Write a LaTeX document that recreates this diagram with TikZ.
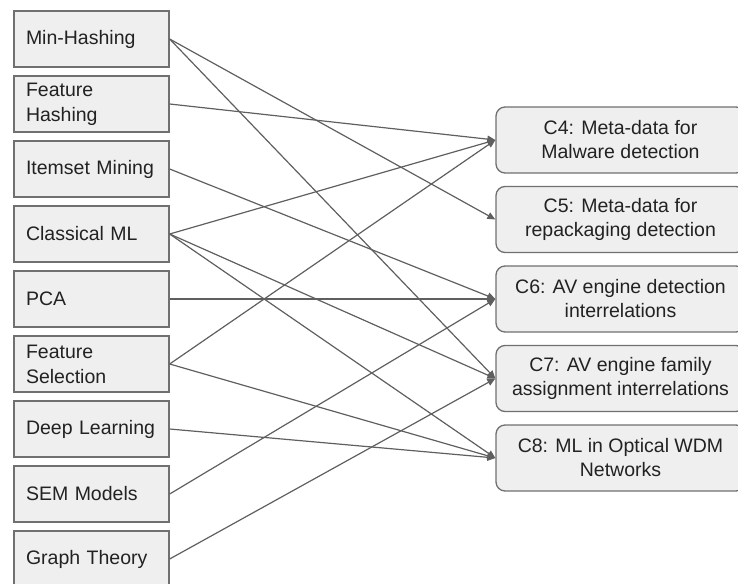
\documentclass[tikz,border=0pt]{standalone}
\usepackage{fontspec}
\setmainfont{Liberation Sans}
\usetikzlibrary{arrows.meta}
\definecolor{boxfill}{HTML}{EFEFEF}
\definecolor{boxline}{HTML}{707070}
\definecolor{edgeline}{HTML}{5F5F5F}
\definecolor{txt}{HTML}{222222}

\begin{document}
\begin{tikzpicture}[x=1pt,y=-1pt]

\tikzset{method/.style = {shape=rectangle,draw=boxline,fill=boxfill,line width=1.3pt,text=txt,
  minimum height=56pt,text width=131pt,inner xsep=12pt,inner ysep=0pt,align=left,
  font=\fontsize{19.5}{25}\selectfont}}
\tikzset{contrib/.style = {shape=rectangle,rounded corners=9pt,draw=boxline,fill=boxfill,line width=1.3pt,text=txt,
  minimum height=66pt,minimum width=249pt,inner sep=0pt,align=center,
  font=\fontsize{19.5}{24}\selectfont}}
\tikzset{edge/.style = {-{Triangle[length=8pt,width=7pt]},draw=edgeline,line width=1.2pt}}

\useasboundingbox (0,0) rectangle (738,583);

%methods
\node[method] (m1) at (91.5,39) {Min-Hashing};
\node[method] (m2) at (91.5,104) {Feature\\Hashing};
\node[method] (m3) at (91.5,169) {Itemset Mining};
\node[method] (m4) at (91.5,234) {Classical ML};
\node[method] (m5) at (91.5,299) {PCA};
\node[method] (m6) at (91.5,364) {Feature\\Selection};
\node[method] (m7) at (91.5,429) {Deep Learning};
\node[method] (m8) at (91.5,494) {SEM Models};
\node[method] (m9) at (91.5,559) {Graph Theory};
%contributions
\node[contrib] (c4) at (620.5,140) {C4: Meta-data for\\Malware detection};
\node[contrib] (c5) at (620.5,219.5) {C5: Meta-data for\\repackaging detection};
\node[contrib] (c6) at (620.5,299) {C6: AV engine detection\\interrelations};
\node[contrib] (c7) at (620.5,378.5) {C7: AV engine family\\assignment interrelations};
\node[contrib] (c8) at (620.5,458) {C8: ML in Optical WDM\\Networks};
%edges
\draw [edge] (m1.east) -- (c5.west);
\draw [edge] (m1.east) -- (c7.west);
\draw [edge] (m2.east) -- (c4.west);
\draw [edge] (m3.east) -- (c6.west);
\draw [edge] (m4.east) -- (c4.west);
\draw [edge] (m4.east) -- (c7.west);
\draw [edge] (m4.east) -- (c8.west);
\draw [edge] (m5.east) -- (c6.west);
\draw [edge] (m6.east) -- (c4.west);
\draw [edge] (m6.east) -- (c8.west);
\draw [edge] (m7.east) -- (c8.west);
\draw [edge] (m8.east) -- (c6.west);
\draw [edge] (m9.east) -- (c7.west);

\end{tikzpicture}
\end{document}
